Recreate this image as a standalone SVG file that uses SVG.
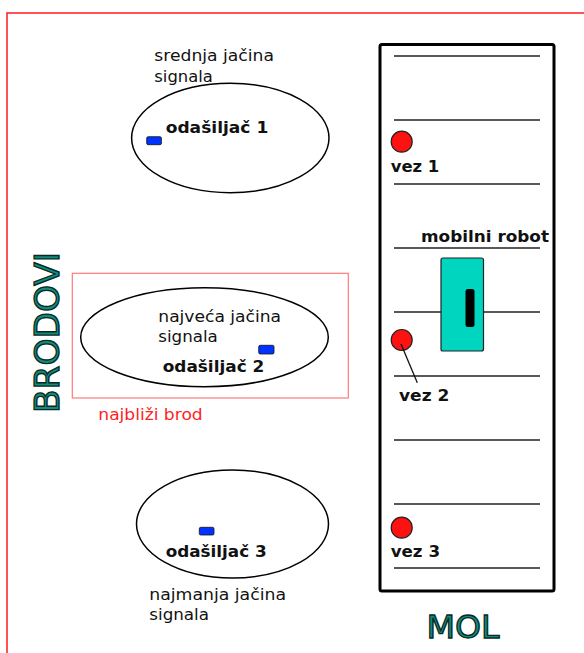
<svg xmlns="http://www.w3.org/2000/svg" width="584" height="653" viewBox="0 0 584 653">
<style>
text{font-family:"DejaVu Sans","Verdana",sans-serif;font-size:16px;fill:#111}
.b{font-weight:bold}
.ell{fill:#fff;stroke:#000;stroke-width:1.5}
.tx{fill:#0033ff;stroke:#111;stroke-width:0.8}
.pier{stroke:#222;stroke-width:1.6}
.vez{fill:#ff1111;stroke:#222;stroke-width:1.2}
.big{font-size:34px;fill:#128a7c;stroke:#062a25;stroke-width:1.3}
</style>
<rect width="584" height="653" fill="#fff"/>
<rect x="7" y="13" width="620" height="700" fill="none" stroke="#ff1a1a" stroke-width="1.5"/>

<g id="mol">
<rect x="380" y="44.5" width="174" height="546.5" rx="2" fill="#fff" stroke="#000" stroke-width="3"/>
<g class="pier">
<line x1="394" y1="56" x2="540" y2="56"/>
<line x1="394" y1="120" x2="540" y2="120"/>
<line x1="394" y1="184" x2="540" y2="184"/>
<line x1="394" y1="248" x2="540" y2="248"/>
<line x1="394" y1="312" x2="540" y2="312"/>
<line x1="394" y1="376" x2="540" y2="376"/>
<line x1="394" y1="440" x2="540" y2="440"/>
<line x1="394" y1="504" x2="540" y2="504"/>
<line x1="394" y1="568" x2="540" y2="568"/>
</g>
<text x="463" y="638" class="big" text-anchor="middle" textLength="73" lengthAdjust="spacingAndGlyphs" style="font-size:32px">MOL</text>
</g>

<g id="robot">
<rect x="441" y="258" width="42.5" height="93" rx="2" fill="#00d6bf" stroke="#222" stroke-width="1.2"/>
<rect x="465.5" y="289" width="9" height="38" rx="2.5" fill="#000"/>
<text x="421" y="242.3" class="b" textLength="128" lengthAdjust="spacingAndGlyphs">mobilni robot</text>
</g>

<g id="vez1">
<circle cx="401.7" cy="141.7" r="10.5" class="vez"/>
<text x="390.7" y="172" class="b" textLength="48.6" lengthAdjust="spacingAndGlyphs">vez 1</text>
</g>
<g id="vez2">
<circle cx="401.7" cy="340" r="10.5" class="vez"/>
<text x="399" y="400.5" class="b" textLength="50.3" lengthAdjust="spacingAndGlyphs">vez 2</text>
</g>
<g id="vez3">
<circle cx="401.7" cy="527.7" r="10.5" class="vez"/>
<text x="390.7" y="556.5" class="b" textLength="49.3" lengthAdjust="spacingAndGlyphs">vez 3</text>
</g>

<g id="connectors">
<line x1="401" y1="344" x2="417.3" y2="382.7" stroke="#111" stroke-width="1.3"/>
</g>

<g id="brodovi">
<text transform="translate(59,332.5) rotate(-90)" class="big" text-anchor="middle" textLength="161" lengthAdjust="spacingAndGlyphs">BRODOVI</text>
</g>

<g id="odasiljac1">
<ellipse cx="230.3" cy="138" rx="98.7" ry="54.7" class="ell"/>
<rect x="146.7" y="136.7" width="14.7" height="8" rx="1.5" class="tx"/>
<text x="165.7" y="133" class="b" textLength="102.6" lengthAdjust="spacingAndGlyphs">odašiljač 1</text>
<text x="154.3" y="61" textLength="119.7" lengthAdjust="spacingAndGlyphs">srednja jačina</text>
<text x="154.3" y="82" textLength="58.5" lengthAdjust="spacingAndGlyphs">signala</text>
</g>

<g id="najblizi">
<rect x="72.3" y="273.3" width="276" height="124.7" fill="none" stroke="#ff7b7b" stroke-width="1.2"/>
<text x="98.3" y="420" style="fill:#ff2222" textLength="104.4" lengthAdjust="spacingAndGlyphs">najbliži brod</text>
</g>

<g id="odasiljac2">
<ellipse cx="204.5" cy="337.2" rx="123.8" ry="49.5" class="ell"/>
<rect x="258.7" y="345.3" width="15.3" height="8.7" rx="1.5" class="tx"/>
<text x="158.3" y="322.3" textLength="122.7" lengthAdjust="spacingAndGlyphs">najveća jačina</text>
<text x="158.3" y="342.3" textLength="59.5" lengthAdjust="spacingAndGlyphs">signala</text>
<text x="162.7" y="372.3" class="b" textLength="101.6" lengthAdjust="spacingAndGlyphs">odašiljač 2</text>
</g>

<g id="odasiljac3">
<ellipse cx="232.5" cy="524" rx="96" ry="54" class="ell"/>
<rect x="199.3" y="527.3" width="14.7" height="7.7" rx="1.5" class="tx"/>
<text x="165.7" y="557.3" class="b" textLength="101" lengthAdjust="spacingAndGlyphs">odašiljač 3</text>
<text x="149.3" y="600" textLength="136.7" lengthAdjust="spacingAndGlyphs">najmanja jačina</text>
<text x="149.3" y="620" textLength="59.7" lengthAdjust="spacingAndGlyphs">signala</text>
</g>
</svg>
